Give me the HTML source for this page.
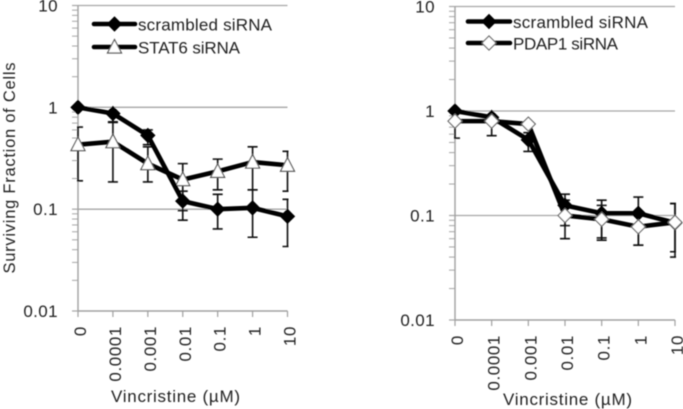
<!DOCTYPE html>
<html>
<head>
<meta charset="utf-8">
<style>
html,body{margin:0;padding:0;background:#fff;width:683px;height:409px;overflow:hidden}
svg{display:block}
text{font-family:"Liberation Sans",sans-serif;fill:#222}
.soft{filter:url(#soft)}
</style>
</head>
<body>
<svg id="figure" xmlns="http://www.w3.org/2000/svg" width="683" height="409" viewBox="0 0 683 409">
<defs>
<filter id="soft" x="0" y="0" width="683" height="409" filterUnits="userSpaceOnUse"><feGaussianBlur stdDeviation="0.55"/></filter>
<clipPath id="clip-left"><rect x="77" y="0" width="211.5" height="409"/></clipPath>
<clipPath id="clip-right"><rect x="454" y="0" width="222" height="409"/></clipPath>
</defs>
<g id="root" class="soft"></g>
</svg>
<script>
const categories = ["0","0.0001","0.001","0.01","0.1","1","10"];
const yTicks = [10,1,0.1,0.01];
const yTickLabels = ["10","1","0.1","0.01"];
const minorMultipliers = [2,3,4,5,6,7,8,9];

const leftScrambled = [1.0,0.87,0.53,0.12,0.1,0.103,0.085];
const leftScrambledUpper = [1.0,0.87,0.6,0.15,0.14,0.155,0.125];
const leftScrambledLower = [1.0,0.72,0.43,0.078,0.064,0.053,0.043];
const leftStat6 = [0.43,0.46,0.28,0.195,0.235,0.29,0.27];
const leftStat6Upper = [0.64,0.71,0.41,0.28,0.31,0.41,0.37];
const leftStat6Lower = [0.19,0.185,0.185,0.097,0.155,0.155,0.15];

const rightScrambled = [1.0,0.87,0.53,0.125,0.105,0.105,0.085];
const rightScrambledUpper = [1.0,0.87,0.62,0.16,0.125,0.15,0.13];
const rightScrambledLower = [1.0,0.8,0.41,0.08,0.061,0.052,0.04];
const rightPdap1 = [0.8,0.8,0.75,0.1,0.092,0.078,0.086];
const rightPdap1Upper = [0.8,0.8,0.75,0.14,0.14,0.1,0.13];
const rightPdap1Lower = [0.55,0.58,0.75,0.06,0.058,0.052,0.045];

const NS = "http://www.w3.org/2000/svg";
const root = document.getElementById("root");

function make(tag, parent, props, text) {
  const el = document.createElementNS(NS, tag);
  for (const k in props) el.setAttribute(k, props[k]);
  if (text !== undefined) el.textContent = text;
  parent.appendChild(el);
  return el;
}

function drawMarker(parent, kind, cx, cy, name) {
  let el;
  if (kind === "diamond-black") {
    el = make("polygon", parent, {points:`${cx-7},${cy} ${cx},${cy-7} ${cx+7},${cy} ${cx},${cy+7}`, fill:"#000", stroke:"#000", "stroke-width":1});
  } else if (kind === "diamond-white") {
    el = make("polygon", parent, {points:`${cx-7},${cy} ${cx},${cy-7} ${cx+7},${cy} ${cx},${cy+7}`, fill:"#fff", stroke:"#666", "stroke-width":1.2});
  } else {
    el = make("polygon", parent, {points:`${cx-7},${cy+6} ${cx},${cy-7.5} ${cx+7},${cy+6}`, fill:"#fff", stroke:"#555", "stroke-width":1.2});
  }
  
  
}

function drawChart(cfg) {
  const chart = make("g", root, {});
  
  
  const xPos = i => cfg.x0 + (cfg.x1 - cfg.x0) * i / (categories.length - 1);
  const yPos = v => cfg.y10 + (1 - Math.log10(v)) * (cfg.y001 - cfg.y10) / 3;

  yTicks.forEach((t, i) => {
    const y = yPos(t);
    if (i < yTicks.length - 1) {
      const grid = make("line", chart, {x1:cfg.x0, x2:cfg.x1, y1:y, y2:y, stroke:"#a6a6a6", "stroke-width":1.3});
      
      
    }
    const tick = make("line", chart, {x1:cfg.x0-6, x2:cfg.x0, y1:y, y2:y, stroke:"#a6a6a6", "stroke-width":1.2});
    
    
    const label = make("text", chart, {x:cfg.x0-20, y:y+6, "text-anchor":"end", "font-size":17, "letter-spacing":0.4}, yTickLabels[i]);
    
    
    if (i > 0) {
      minorMultipliers.forEach(m => {
        const my = yPos(t * m);
        const minor = make("line", chart, {x1:cfg.x0-6, x2:cfg.x0, y1:my, y2:my, stroke:"#a6a6a6", "stroke-width":1});
        
        
      });
    }
  });

  const yAxis = make("line", chart, {x1:cfg.x0, x2:cfg.x0, y1:cfg.y10, y2:cfg.y001, stroke:"#a0a0a0", "stroke-width":1.4});
  
  
  const xAxis = make("line", chart, {x1:cfg.x0, x2:cfg.x1, y1:cfg.y001, y2:cfg.y001, stroke:"#a0a0a0", "stroke-width":1.4});
  
  

  categories.forEach((c, i) => {
    const x = xPos(i);
    const tick = make("line", chart, {x1:x, x2:x, y1:cfg.y001, y2:cfg.y001+6, stroke:"#a0a0a0", "stroke-width":1.2});
    
    
    const label = make("text", chart, {transform:`translate(${x+8},${cfg.y001+15}) rotate(-90)`, "text-anchor":"end", "font-size":17, "letter-spacing":0.6}, c);
    
    
  });

  const bars = make("g", chart, {"clip-path":`url(#${cfg.clip})`});
  
  
  cfg.series.forEach(s => {
    s.values.forEach((v, i) => {
      const x = xPos(i);
      const hi = yPos(s.upper[i]);
      const lo = yPos(s.lower[i]);
      const bar = make("path", bars, {d:`M${x-5} ${hi}H${x+5}M${x} ${hi}V${lo}M${x-5} ${lo}H${x+5}`, fill:"none", stroke:"#111", "stroke-width":1.6});
      
      
    });
  });

  cfg.series.forEach(s => {
    const pts = s.values.map((v, i) => xPos(i) + "," + yPos(v)).join(" ");
    const line = make("polyline", chart, {points:pts, fill:"none", stroke:"#000", "stroke-width":4.6, "stroke-linejoin":"round"});
    
    
    s.values.forEach((v, i) => drawMarker(chart, s.marker, xPos(i), yPos(v), s.name + '-marker'));
  });

  cfg.series.forEach(s => {
    const entry = make("g", chart, {});
    
    
    make("line", entry, {x1:s.lx0, x2:s.lx1, y1:s.ly, y2:s.ly, stroke:"#000", "stroke-width":4.6, "stroke-linecap":"round"});
    drawMarker(entry, s.marker, (s.lx0 + s.lx1) / 2, s.ly, 'legend-marker');
    make("text", entry, {x:s.lx1+3, y:s.ly+6.5, "font-size":17, textLength:s.lw, lengthAdjust:"spacing"}, s.label);
  });

  const xTitle = make("text", chart, {x:cfg.titleX, y:cfg.titleY, "text-anchor":"middle", "font-size":17, textLength:129, lengthAdjust:"spacing"}, "Vincristine (µM)");
  
  
}

drawChart({
  name:"left-chart", clip:"clip-left", x0:78, x1:287.5, y10:5.5, y001:311, titleX:175.5, titleY:402,
  series:[
    {name:"stat6", label:"STAT6 siRNA", marker:"triangle", values:leftStat6, upper:leftStat6Upper, lower:leftStat6Lower, lx0:94, lx1:135, ly:47, lw:102},
    {name:"scrambled", label:"scrambled siRNA", marker:"diamond-black", values:leftScrambled, upper:leftScrambledUpper, lower:leftScrambledLower, lx0:94, lx1:135, ly:24, lw:134}
  ]
});

drawChart({
  name:"right-chart", clip:"clip-right", x0:455, x1:675, y10:6.5, y001:320, titleX:567.5, titleY:405,
  series:[
    {name:"scrambled", label:"scrambled siRNA", marker:"diamond-black", values:rightScrambled, upper:rightScrambledUpper, lower:rightScrambledLower, lx0:468, lx1:510, ly:21.5, lw:135},
    {name:"pdap1", label:"PDAP1 siRNA", marker:"diamond-white", values:rightPdap1, upper:rightPdap1Upper, lower:rightPdap1Lower, lx0:468, lx1:510, ly:43, lw:105}
  ]
});

const yTitle = make("text", root, {transform:"translate(15,168) rotate(-90)", "text-anchor":"middle", "font-size":16.5, textLength:211, lengthAdjust:"spacing"}, "Surviving Fraction of Cells");


</script>
</body>
</html>
